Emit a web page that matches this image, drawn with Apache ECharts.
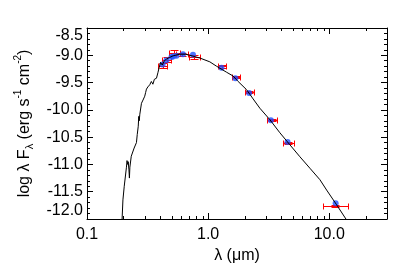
<!DOCTYPE html>
<html>
<head>
<meta charset="utf-8">
<script src="https://cdn.jsdelivr.net/npm/echarts@6/dist/echarts.min.js"></script>
<style>html,body{margin:0;padding:0;background:#fff}#c{width:413px;height:275px}</style>
</head>
<body>
<div id="c"></div>
<script>
// Model SED (black line)
const modelX = [0.194, 0.198, 0.203, 0.2117, 0.214, 0.217, 0.219, 0.222, 0.224, 0.226, 0.232, 0.245, 0.256, 0.26, 0.265, 0.2675, 0.27, 0.273, 0.2816, 0.29, 0.2998, 0.305, 0.3097, 0.318, 0.3298, 0.34, 0.35, 0.36, 0.368, 0.3747, 0.385, 0.3936, 0.405, 0.412, 0.418, 0.4246, 0.435, 0.453, 0.48, 0.5137, 0.5836, 0.65, 0.706, 0.854, 1.033, 1.173, 1.419, 1.609, 1.77, 2.077, 2.354, 2.675, 3.236, 3.914, 4.734, 5.73, 6.928, 8.38, 9.52, 11.51, 13.74, 15.0];
const modelY = [-12.1, -11.65, -11.4, -11.05, -10.93, -11.0, -10.95, -11.1, -11.25, -11.05, -10.85, -10.7, -10.6, -10.45, -10.3, -10.12, -10.2, -10.08, -9.88, -9.82, -9.75, -9.68, -9.62, -9.58, -9.54, -9.48, -9.53, -9.44, -9.47, -9.42, -9.32, -9.23, -9.13, -9.11, -9.18, -9.2, -9.1, -9.07, -9.04, -9.01, -8.98, -8.98, -9.0, -9.05, -9.12, -9.2, -9.31, -9.38, -9.48, -9.63, -9.8, -9.97, -10.18, -10.42, -10.64, -10.86, -11.07, -11.28, -11.47, -11.74, -12.0, -12.15];

// Observed photometry (red error bars)
const obsX    = [0.421, 0.458, 0.527, 0.612, 0.77, 1.297, 1.69, 2.19, 3.34, 4.6, 11.25];
const obsY    = [-9.19, -9.08, -8.95, -8.98, -9.03, -9.205, -9.40, -9.67, -10.19, -10.60, -11.76];
const obsXLo  = [0.386, 0.420, 0.476, 0.548, 0.697, 1.209, 1.561, 2.011, 3.038, 4.12, 8.82];
const obsXHi  = [0.458, 0.498, 0.584, 0.684, 0.854, 1.392, 1.828, 2.386, 3.675, 5.14, 14.36];
const obsYErr = [0.045, 0.04, 0.04, 0.03, 0.04, 0.02, 0.02, 0.02, 0.02, 0.02, 0.025];

// Model photometry (blue dots)
const fitX = [0.421, 0.453, 0.498, 0.514, 0.548, 0.62, 0.75, 1.29, 1.68, 2.18, 3.30, 4.53, 11.3];
const fitY = [-9.17, -9.09, -9.03, -9.02, -9.01, -8.98, -8.99, -9.23, -9.42, -9.69, -10.19, -10.59, -11.71];

// Axes
const xRange = [0.1, 30];
const yRange = [-12.0, -8.5];
const yStep = 0.5;
const xMinorTicks = [0.2, 0.3, 0.4, 0.5, 0.6, 0.7, 0.8, 0.9, 2, 3, 4, 5, 6, 7, 8, 9, 20];
const xTickValues = [0.1, 1, 10];
const xTickLabels = ['0.1', '1.0', '10.0'];

const FONT = 'Liberation Sans';
const chart = echarts.init(document.getElementById('c'), null, {renderer: 'canvas'});

function px(v) { return Math.round(v) + 0.5; }

const axisCommon = {
  axisLine: {show: true, lineStyle: {color: '#000', width: 1}},
  splitLine: {show: false},
};

chart.setOption({
  animation: false,
  backgroundColor: '#fff',
  grid: {left: 87, top: 28, width: 300, height: 191, containLabel: false},
  xAxis: [
    Object.assign({
      type: 'log', logBase: 10, min: xRange[0], max: xRange[1], position: 'bottom',
      axisTick: {show: true, inside: true, length: 6, lineStyle: {color: '#000'}},
      axisLabel: {
        show: true, margin: 8, color: '#000', fontFamily: FONT, fontSize: 16,
        formatter: function (v) {
          for (let i = 0; i < xTickValues.length; i++) {
            if (Math.abs(v - xTickValues[i]) / xTickValues[i] < 1e-6) return xTickLabels[i];
          }
          return '';
        }
      },
      name: 'λ (μm)', nameLocation: 'middle', nameGap: 26,
      nameTextStyle: {color: '#000', fontFamily: FONT, fontSize: 16}
    }, axisCommon),
    Object.assign({
      type: 'log', logBase: 10, min: xRange[0], max: xRange[1], position: 'top',
      axisTick: {show: true, inside: true, length: 6, lineStyle: {color: '#000'}},
      axisLabel: {show: false}
    }, axisCommon)
  ],
  yAxis: [
    Object.assign({
      type: 'value', min: yRange[0], max: yRange[1], interval: yStep, position: 'left',
      axisTick: {show: true, inside: true, length: 6, lineStyle: {color: '#000'}},
      minorTick: {show: true, splitNumber: 5, length: 3, lineStyle: {color: '#000'}},
      axisLabel: {
        show: true, margin: 4, color: '#000', fontFamily: FONT, fontSize: 16,
        formatter: function (v) { return v.toFixed(1); },
        verticalAlignMinLabel: 'bottom', verticalAlignMaxLabel: 'top'
      },
      name: '{n|log λ F}{s|λ}{n| (erg s}{p|-1}{n| cm}{p|-2}{n|)}',
      nameLocation: 'middle', nameGap: 50, nameRotate: 90,
      nameTextStyle: {
        color: '#000', fontFamily: FONT, fontSize: 16,
        rich: {
          n: {fontFamily: FONT, fontSize: 16, lineHeight: 22, color: '#000'},
          s: {fontFamily: FONT, fontSize: 11, lineHeight: 12, verticalAlign: 'bottom', color: '#000'},
          p: {fontFamily: FONT, fontSize: 10, lineHeight: 12, verticalAlign: 'top', color: '#000'}
        }
      }
    }, axisCommon),
    Object.assign({
      type: 'value', min: yRange[0], max: yRange[1], interval: yStep, position: 'right',
      axisTick: {show: true, inside: true, length: 6, lineStyle: {color: '#000'}},
      minorTick: {show: true, splitNumber: 5, length: 3, lineStyle: {color: '#000'}},
      axisLabel: {show: false}
    }, axisCommon)
  ],
  series: [
    {
      type: 'custom', name: 'minor', xAxisIndex: 0, yAxisIndex: 0, silent: true, clip: false,
      data: xMinorTicks.map(v => [v, yRange[0]]),
      encode: {x: 0, y: 1},
      renderItem: function (params, api) {
        const v = api.value(0);
        const b = api.coord([v, yRange[0]]);
        const t = api.coord([v, yRange[1]]);
        const x = px(b[0]);
        const st = {stroke: '#000', lineWidth: 1};
        return {type: 'group', children: [
          {type: 'line', shape: {x1: x, y1: b[1], x2: x, y2: b[1] - 3}, style: st},
          {type: 'line', shape: {x1: x, y1: t[1], x2: x, y2: t[1] + 3}, style: st}
        ]};
      }
    },
    {
      type: 'line', name: 'model', xAxisIndex: 0, yAxisIndex: 0,
      data: modelX.map((x, i) => [x, modelY[i]]),
      showSymbol: false, symbol: 'none', clip: true,
      lineStyle: {color: '#000', width: 1}
    },
    {
      type: 'scatter', name: 'fit', xAxisIndex: 0, yAxisIndex: 0,
      data: fitX.map((x, i) => [x, fitY[i]]),
      symbol: 'circle', symbolSize: 6,
      itemStyle: {color: '#1f4fff'}
    },
    {
      type: 'custom', name: 'obs', xAxisIndex: 0, yAxisIndex: 0, clip: false,
      data: obsX.map((x, i) => [x, obsY[i], obsXLo[i], obsXHi[i], obsYErr[i]]),
      encode: {x: 0, y: 1},
      renderItem: function (params, api) {
        const x = api.value(0), y = api.value(1), xl = api.value(2), xh = api.value(3), ye = api.value(4);
        const c = api.coord([x, y]);
        const l = api.coord([xl, y]);
        const h = api.coord([xh, y]);
        const t = api.coord([x, y + ye]);
        const b = api.coord([x, y - ye]);
        const st = {stroke: '#ff0000', lineWidth: 1};
        const cy = px(c[1]), cx = px(c[0]);
        const lx = px(l[0]), hx = px(h[0]);
        const ty = px(t[1]), by = px(b[1]);
        return {type: 'group', children: [
          {type: 'line', shape: {x1: lx, y1: cy, x2: hx, y2: cy}, style: st},
          {type: 'line', shape: {x1: lx, y1: cy - 3, x2: lx, y2: cy + 3}, style: st},
          {type: 'line', shape: {x1: hx, y1: cy - 3, x2: hx, y2: cy + 3}, style: st},
          {type: 'line', shape: {x1: cx, y1: ty, x2: cx, y2: by}, style: st},
          {type: 'line', shape: {x1: cx - 4, y1: ty, x2: cx + 4, y2: ty}, style: st},
          {type: 'line', shape: {x1: cx - 4, y1: by, x2: cx + 4, y2: by}, style: st}
        ]};
      }
    }
  ]
});
</script>
</body>
</html>
